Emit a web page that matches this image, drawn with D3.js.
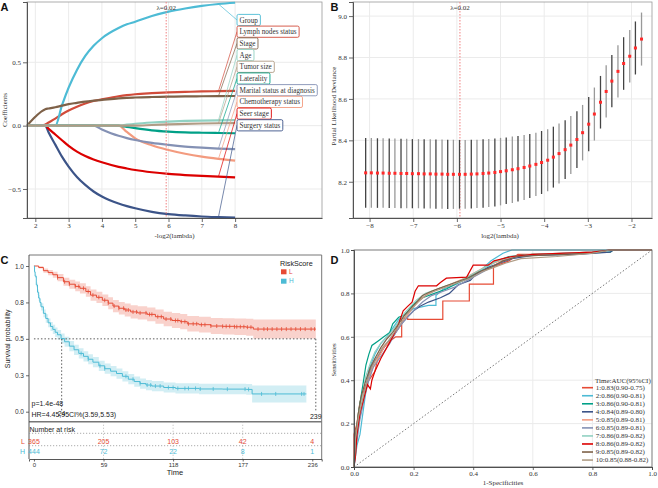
<!DOCTYPE html>
<html><head><meta charset="utf-8">
<script src="https://cdn.jsdelivr.net/npm/d3@7"></script>
<style>body{margin:0;background:#fff}svg{display:block}</style>
</head><body><svg id="c" width="658" height="488"></svg>
<script>
// ---------------- DATA ----------------
// Panel A: LASSO coefficient paths
const coefX = [1.75, 2.0, 2.2, 2.3, 2.4, 2.6, 2.8, 3.0, 3.25, 3.5, 3.75, 4.0, 4.5, 4.75, 5.0, 5.5, 6.0, 6.5, 7.0, 7.5, 8.0];
const coefNames = ["Group","Lymph nodes status","Stage","Age","Tumor size","Laterality","Marital status at diagnosis","Chemotherapy status","Seer stage","Surgery status"];
const coefGroup   = [0,0,0,0,0,0,0.16,0.30,0.44,0.55,0.63,0.69,0.77,0.80,0.82,0.865,0.90,0.925,0.945,0.96,0.97];
const coefLymph   = [0,0,0,0.01,0.025,0.055,0.09,0.12,0.15,0.175,0.195,0.208,0.232,0.241,0.248,0.256,0.262,0.266,0.27,0.272,0.274];
const coefStage   = [0,0.07,0.115,0.13,0.135,0.145,0.158,0.17,0.18,0.19,0.197,0.203,0.215,0.219,0.222,0.226,0.229,0.231,0.232,0.233,0.234];
const coefAge     = [0,0,0,0,0,0,0,0,0,0,0,0,0,0.008,0.015,0.025,0.032,0.037,0.04,0.042,0.043];
const coefTumor   = [0,0,0,0,0,0,0,0,0,0,0,0,0,0,0,0.005,0.01,0.014,0.017,0.019,0.02];
const coefLat     = [0,0,0,0,0,0,0,0,0,0,0,0,0,-0.01,-0.02,-0.037,-0.047,-0.053,-0.056,-0.058,-0.06];
const coefMarital = [0,0,0,0,0,0,0,0,0,0,0,-0.03,-0.08,-0.098,-0.113,-0.136,-0.152,-0.165,-0.174,-0.181,-0.186];
const coefChemo   = [0,0,0,0,0,0,0,0,0,0,0,0,0,-0.05,-0.1,-0.155,-0.192,-0.222,-0.245,-0.262,-0.276];
const coefSeer    = [0,0,0,0,-0.025,-0.07,-0.115,-0.16,-0.205,-0.24,-0.267,-0.289,-0.325,-0.338,-0.35,-0.368,-0.381,-0.39,-0.397,-0.403,-0.408];
const coefSurgery = [0,0,0,0,-0.055,-0.15,-0.245,-0.323,-0.405,-0.468,-0.52,-0.56,-0.615,-0.635,-0.652,-0.68,-0.698,-0.709,-0.717,-0.722,-0.726];
const coefColors = ["#4DBBD5","#D14B3A","#7E6148","#91D1C2","#B09C85","#00A087","#8491B4","#F39B7F","#DC0000","#3C5488"];
const coefTicksX = [2,3,4,5,6,7,8];
const coefTicksY = [-0.5,0,0.5];
const lambdaMinLog = 5.93;
const lambdaLabel = "λ=0.02";

// Panel B: CV partial likelihood deviance
const cvLogLambda = [-8.09,-7.96,-7.82,-7.69,-7.55,-7.42,-7.28,-7.15,-7.02,-6.88,-6.75,-6.61,-6.48,-6.34,-6.21,-6.08,-5.94,-5.81,-5.67,-5.54,-5.40,-5.27,-5.13,-5.00,-4.87,-4.73,-4.60,-4.46,-4.33,-4.19,-4.06,-3.92,-3.79,-3.66,-3.52,-3.39,-3.25,-3.12,-2.98,-2.85,-2.71,-2.58,-2.45,-2.31,-2.18,-2.04,-1.91,-1.77];
const cvMean = [8.243,8.243,8.242,8.242,8.241,8.241,8.240,8.240,8.239,8.239,8.238,8.238,8.237,8.237,8.236,8.236,8.236,8.236,8.237,8.238,8.240,8.242,8.245,8.249,8.253,8.258,8.263,8.269,8.276,8.284,8.293,8.304,8.319,8.336,8.355,8.377,8.404,8.437,8.478,8.527,8.584,8.636,8.686,8.733,8.771,8.806,8.846,8.889];
const cvSd = [0.168,0.168,0.168,0.168,0.168,0.168,0.168,0.168,0.167,0.167,0.167,0.167,0.167,0.167,0.167,0.167,0.166,0.166,0.166,0.165,0.165,0.164,0.164,0.163,0.161,0.16,0.158,0.157,0.155,0.153,0.152,0.15,0.147,0.145,0.142,0.14,0.137,0.134,0.131,0.128,0.127,0.126,0.126,0.126,0.127,0.127,0.128,0.128];
const cvTicksX = [-8,-7,-6,-5,-4,-3,-2];
const cvTicksY = [8.2,8.4,8.6,8.8,9.0];
const cvLambdaLog = -5.93;

// Panel C: Kaplan-Meier
const kmTimeL  = [0,4,8,12,16,20,25,30,35,39,44,48,53,58,63,67,72,77,82,88,96,103,110,117,124,130,140,150,160,170,180,186,200,220,239];
const kmSurvL  = [1.0,0.99,0.968,0.955,0.94,0.92,0.892,0.875,0.86,0.847,0.825,0.80,0.785,0.765,0.745,0.725,0.71,0.698,0.685,0.678,0.668,0.652,0.636,0.626,0.618,0.603,0.597,0.588,0.586,0.583,0.58,0.567,0.567,0.567,0.567];
const kmLowL   = [1.0,0.982,0.953,0.937,0.919,0.895,0.864,0.844,0.827,0.812,0.789,0.762,0.746,0.725,0.704,0.683,0.667,0.654,0.64,0.632,0.62,0.603,0.586,0.575,0.566,0.55,0.543,0.533,0.53,0.526,0.522,0.502,0.502,0.502,0.502];
const kmUpL    = [1.0,0.998,0.983,0.973,0.961,0.945,0.92,0.906,0.893,0.882,0.861,0.838,0.824,0.805,0.786,0.767,0.753,0.742,0.73,0.724,0.716,0.701,0.686,0.677,0.67,0.656,0.651,0.643,0.642,0.64,0.638,0.632,0.632,0.632,0.632];
const kmTimeH  = [0,0.5,1,2,3,4,5,6,8,10,12,14,16,18,20,23,26,30,34,38,42,46,50,55,60,65,70,75,80,85,90,95,100,110,120,140,160,180,185,200,231];
const kmSurvH  = [1.0,0.96,0.93,0.87,0.82,0.78,0.75,0.72,0.675,0.64,0.61,0.585,0.565,0.545,0.528,0.502,0.48,0.45,0.425,0.40,0.38,0.36,0.34,0.315,0.295,0.278,0.262,0.243,0.223,0.207,0.193,0.183,0.176,0.166,0.16,0.156,0.155,0.153,0.122,0.122,0.122];
const kmLowH   = [1.0,0.95,0.918,0.854,0.801,0.759,0.727,0.695,0.648,0.611,0.58,0.554,0.533,0.512,0.495,0.468,0.446,0.415,0.39,0.365,0.345,0.325,0.305,0.28,0.26,0.243,0.227,0.208,0.188,0.172,0.158,0.148,0.141,0.131,0.125,0.12,0.119,0.116,0.064,0.064,0.064];
const kmUpH    = [1.0,0.97,0.942,0.886,0.839,0.801,0.773,0.745,0.702,0.669,0.64,0.616,0.597,0.578,0.561,0.536,0.514,0.485,0.46,0.435,0.415,0.395,0.375,0.35,0.33,0.313,0.297,0.278,0.258,0.242,0.228,0.218,0.211,0.201,0.195,0.192,0.191,0.19,0.18,0.18,0.18];
const censorL = [20,26,30,35,38,42,46,50,55,60,63,68,72,76,78,80,84,87,90,95,98,100,105,108,112,116,120,122,125,128,131,135,138,142,145,150,155,160,163,166,170,172,175,178,181,184,190,195,198,202,206,210,214,218,222,226,230,235,238];
const censorH = [40,46,56,60,78,84,90,96,99,103,107,114,118,122,128,131,137,141,152,164,179,182,193,205,227,229];
const kmTicksY = [0,0.25,0.5,0.75,1];
const kmTickLabelsY = ["0.0","0.3","0.5","0.8","1.0"];
const kmTicksX = [0,59,118,177,236];
const riskL = [365,205,103,42,4];
const riskH = [444,72,22,8,1];
const medianH = 23.5, medianL = 239;
const pText = "p=1.4e-48";
const hrText = "HR=4.45,95CI%(3.59,5.53)";

// Panel D: time-dependent ROC
const roc1 = [[0,0],[0,0.15],[0.01,0.2],[0.02,0.3],[0.04,0.38],[0.06,0.42],[0.07,0.44],[0.08,0.5],[0.1,0.55],[0.12,0.58],[0.14,0.6],[0.16,0.6],[0.16,0.685],[0.18,0.685],[0.18,0.68],[0.298,0.68],[0.298,0.765],[0.387,0.765],[0.387,0.843],[0.468,0.843],[0.468,0.923],[0.52,0.95],[0.55,0.98],[0.7,0.98],[0.8,0.99],[0.86,1],[1,1]];
const roc2 = [[0,0],[0.01,0.1],[0.02,0.15],[0.03,0.25],[0.04,0.35],[0.05,0.45],[0.07,0.52],[0.09,0.57],[0.11,0.6],[0.13,0.64],[0.15,0.68],[0.17,0.7],[0.2,0.73],[0.25,0.745],[0.275,0.745],[0.275,0.79],[0.3,0.82],[0.34,0.84],[0.38,0.87],[0.42,0.9],[0.46,0.95],[0.5,0.985],[0.53,1.0],[0.6,1.0],[1,1]];
const roc3 = [[0,0],[0.005,0.12],[0.015,0.25],[0.03,0.38],[0.04,0.47],[0.05,0.52],[0.06,0.56],[0.08,0.58],[0.1,0.6],[0.12,0.62],[0.13,0.66],[0.15,0.69],[0.17,0.7],[0.2,0.75],[0.23,0.78],[0.27,0.8],[0.31,0.82],[0.35,0.85],[0.4,0.88],[0.44,0.92],[0.48,0.95],[0.52,0.97],[0.6,0.98],[0.75,0.985],[0.86,0.99],[0.87,1],[1,1]];
const roc4 = [[0,0],[0.005,0.1],[0.015,0.2],[0.03,0.3],[0.045,0.4],[0.055,0.45],[0.07,0.49],[0.09,0.53],[0.11,0.57],[0.13,0.6],[0.15,0.64],[0.17,0.68],[0.2,0.72],[0.22,0.74],[0.25,0.76],[0.29,0.78],[0.32,0.8],[0.35,0.84],[0.39,0.86],[0.41,0.89],[0.45,0.92],[0.49,0.94],[0.53,0.96],[0.6,0.975],[0.75,0.98],[0.86,0.99],[0.87,1],[1,1]];
const roc5 = [[0,0],[0.005,0.15],[0.015,0.22],[0.03,0.3],[0.045,0.38],[0.06,0.45],[0.08,0.5],[0.1,0.55],[0.12,0.58],[0.14,0.62],[0.16,0.66],[0.18,0.7],[0.2,0.74],[0.22,0.77],[0.25,0.8],[0.28,0.82],[0.32,0.84],[0.37,0.87],[0.41,0.9],[0.45,0.93],[0.49,0.95],[0.54,0.97],[0.6,0.98],[0.8,0.99],[0.86,1],[1,1]];
const roc6 = [[0,0],[0.01,0.12],[0.02,0.22],[0.035,0.32],[0.05,0.4],[0.065,0.46],[0.085,0.5],[0.1,0.53],[0.12,0.57],[0.14,0.62],[0.16,0.66],[0.18,0.69],[0.2,0.72],[0.23,0.76],[0.26,0.79],[0.3,0.81],[0.34,0.83],[0.38,0.86],[0.42,0.89],[0.46,0.92],[0.5,0.95],[0.55,0.97],[0.62,0.98],[0.8,0.99],[0.86,1],[1,1]];
const roc7 = [[0,0],[0.005,0.14],[0.015,0.24],[0.03,0.35],[0.04,0.42],[0.055,0.48],[0.07,0.53],[0.09,0.57],[0.11,0.6],[0.13,0.63],[0.15,0.67],[0.17,0.71],[0.19,0.74],[0.21,0.77],[0.24,0.8],[0.28,0.82],[0.32,0.84],[0.36,0.86],[0.4,0.89],[0.44,0.92],[0.48,0.95],[0.53,0.97],[0.6,0.98],[0.8,0.99],[0.86,1],[1,1]];
const roc8 = [[0,0],[0.005,0.05],[0.01,0.15],[0.02,0.25],[0.03,0.3],[0.045,0.38],[0.055,0.36],[0.06,0.4],[0.07,0.44],[0.09,0.5],[0.11,0.55],[0.13,0.6],[0.15,0.66],[0.165,0.72],[0.18,0.74],[0.195,0.76],[0.205,0.81],[0.216,0.835],[0.277,0.835],[0.29,0.85],[0.31,0.87],[0.378,0.875],[0.4,0.93],[0.45,0.93],[0.47,0.95],[0.53,0.97],[0.6,0.98],[0.8,0.99],[0.86,1],[1,1]];
const roc9 = [[0,0],[0.005,0.15],[0.015,0.25],[0.025,0.33],[0.04,0.4],[0.055,0.46],[0.07,0.5],[0.09,0.55],[0.11,0.59],[0.13,0.62],[0.15,0.66],[0.17,0.7],[0.19,0.73],[0.21,0.76],[0.23,0.79],[0.26,0.81],[0.3,0.83],[0.34,0.85],[0.38,0.87],[0.42,0.9],[0.46,0.92],[0.5,0.95],[0.55,0.97],[0.62,0.975],[0.8,0.985],[0.86,1],[1,1]];
const roc10 = [[0,0],[0.005,0.13],[0.015,0.23],[0.03,0.32],[0.045,0.4],[0.06,0.46],[0.075,0.5],[0.095,0.55],[0.115,0.58],[0.135,0.62],[0.155,0.66],[0.175,0.7],[0.195,0.73],[0.215,0.76],[0.24,0.79],[0.27,0.81],[0.31,0.83],[0.35,0.85],[0.39,0.87],[0.43,0.9],[0.47,0.92],[0.51,0.94],[0.56,0.96],[0.68,0.97],[0.8,0.985],[0.86,1],[1,1]];
const rocLabels = ["1:0.83(0.90-0.75)","2:0.86(0.90-0.81)","3:0.86(0.90-0.81)","4:0.84(0.89-0.80)","5:0.85(0.89-0.81)","6:0.85(0.89-0.81)","7:0.86(0.89-0.82)","8:0.86(0.89-0.82)","9:0.85(0.89-0.82)","10:0.85(0.88-0.82)"];
const rocColors = ["#E64B35","#4DBBD5","#00A087","#3C5488","#F39B7F","#8491B4","#91D1C2","#DC0000","#7E6148","#B09C85"];
const rocTicks = [0,0.2,0.4,0.6,0.8,1.0];

// ---------------- DRAW ----------------
const SERIF = "'Liberation Serif','Times New Roman',serif";
const SANS = "'Liberation Sans',Arial,sans-serif";
const svg = d3.select("#c");
svg.append("rect").attr("width",658).attr("height",488).attr("fill","#fff");
const GRID = "#ebebeb";

function styleAxis(g, font, size){
  g.selectAll("path.domain").attr("stroke","#444").attr("stroke-width",0.9);
  g.selectAll(".tick line").attr("stroke","#444").attr("stroke-width",0.8);
  g.selectAll(".tick text").attr("font-family",font).attr("font-size",size).attr("fill","#333");
}
function letter(t,x,y){
  svg.append("text").text(t).attr("x",x).attr("y",y).attr("font-family",SANS)
    .attr("font-weight","bold").attr("font-size",11).attr("fill","#111");
}

// ===== Panel A =====
(function(){
  const g = svg.append("g");
  const L=27,R=322,T=2,B=218;
  const x = d3.scaleLinear().domain([1.75,10.61]).range([L,R]);
  const y = d3.scaleLinear().domain([-0.729,0.976]).range([B,T]);
  g.selectAll(".vg").data(coefTicksX).join("line").attr("x1",d=>x(d)).attr("x2",d=>x(d)).attr("y1",T).attr("y2",B).attr("stroke",GRID);
  g.selectAll(".hg").data(coefTicksY).join("line").attr("x1",L).attr("x2",R).attr("y1",d=>y(d)).attr("y2",d=>y(d)).attr("stroke",GRID);
  g.append("rect").attr("x",L).attr("y",T).attr("width",R-L).attr("height",B-T).attr("fill","none").attr("stroke","#999").attr("stroke-width",0.8);
  const series = [coefGroup,coefLymph,coefStage,coefAge,coefTumor,coefLat,coefMarital,coefChemo,coefSeer,coefSurgery];
  const line = d3.line().x(d=>x(d[0])).y(d=>y(d[1])).curve(d3.curveMonotoneX);
  const order = [9,8,7,6,5,1,0,2,3,4];
  order.forEach(i=>{
    g.append("path").datum(coefX.map((v,j)=>[v,series[i][j]])).attr("d",line)
      .attr("fill","none").attr("stroke",coefColors[i]).attr("stroke-width",2.2);
  });
  g.append("line").attr("x1",x(lambdaMinLog)).attr("x2",x(lambdaMinLog)).attr("y1",T).attr("y2",B)
    .attr("stroke","#F08080").attr("stroke-width",1).attr("stroke-dasharray","1.5,1.5");
  g.append("text").text(lambdaLabel).attr("x",x(lambdaMinLog)).attr("y",9.5).attr("text-anchor","middle")
    .attr("font-family",SERIF).attr("font-size",7).attr("fill","#333");
  const xi = coefX.indexOf(7.5);
  coefNames.forEach((n,i)=>{
    const ly = 20 + i*11.7;
    g.append("line").attr("x1",x(7.5)).attr("y1",y(series[i][xi])).attr("x2",237).attr("y2",ly)
      .attr("stroke",coefColors[i]).attr("stroke-width",0.7);
  });
  coefNames.forEach((n,i)=>{
    const ly = 20 + i*11.7;
    const rect = g.append("rect").attr("x",237).attr("y",ly-5.6).attr("height",11.2).attr("rx",1.5)
      .attr("fill","#fff").attr("stroke",coefColors[i]).attr("stroke-width",0.9);
    const t = g.append("text").text(n).attr("x",239.5).attr("y",ly+2.5)
      .attr("font-family",SERIF).attr("font-size",7.2).attr("fill","#333");
    rect.attr("width",t.node().getComputedTextLength()+5);
  });
  const ay = g.append("g").attr("transform",`translate(${L},0)`)
    .call(d3.axisLeft(y).tickValues(coefTicksY).tickSize(4).tickPadding(2).tickFormat(d3.format(".1f")));
  styleAxis(ay,SERIF,7);
  const ax = g.append("g").attr("transform",`translate(0,${B})`)
    .call(d3.axisBottom(x).tickValues(coefTicksX).tickSize(4).tickPadding(1.5).tickSizeOuter(0).tickFormat(d3.format("d")));
  styleAxis(ax,SERIF,7);
  g.append("text").text("Coefficients").attr("transform",`translate(7,${(T+B)/2}) rotate(-90)`)
    .attr("text-anchor","middle").attr("font-family",SERIF).attr("font-size",7).attr("fill","#333");
  g.append("text").text("-log2(lambda)").attr("x",(L+R)/2).attr("y",237.5).attr("text-anchor","middle")
    .attr("font-family",SERIF).attr("font-size",7).attr("fill","#333");
})();
letter("A",0.5,10.5);

// ===== Panel B =====
(function(){
  const g = svg.append("g");
  const L=353,R=652,T=2,B=218;
  const x = d3.scaleLinear().domain([-8.38,-1.53]).range([L,R]);
  const y = d3.scaleLinear().domain([8.025,9.068]).range([B,T]);
  g.selectAll(".vg").data(cvTicksX).join("line").attr("x1",d=>x(d)).attr("x2",d=>x(d)).attr("y1",T).attr("y2",B).attr("stroke",GRID);
  g.selectAll(".hg").data(cvTicksY).join("line").attr("x1",L).attr("x2",R).attr("y1",d=>y(d)).attr("y2",d=>y(d)).attr("stroke",GRID);
  g.append("rect").attr("x",L).attr("y",T).attr("width",R-L).attr("height",B-T).attr("fill","none").attr("stroke","#999").attr("stroke-width",0.8);
  g.append("line").attr("x1",x(cvLambdaLog)).attr("x2",x(cvLambdaLog)).attr("y1",T).attr("y2",B)
    .attr("stroke","#F08080").attr("stroke-width",1).attr("stroke-dasharray","1.5,1.5");
  g.append("text").text(lambdaLabel).attr("x",x(cvLambdaLog)).attr("y",9.5).attr("text-anchor","middle")
    .attr("font-family",SERIF).attr("font-size",7).attr("fill","#333");
  cvLogLambda.forEach((v,i)=>{
    g.append("line").attr("x1",x(v)).attr("x2",x(v)).attr("y1",y(cvMean[i]-cvSd[i])).attr("y2",y(cvMean[i]+cvSd[i]))
      .attr("stroke",i%2? "#999":"#444").attr("stroke-width",1.3);
  });
  cvLogLambda.forEach((v,i)=>{
    g.append("rect").attr("x",x(v)-1.5).attr("y",y(cvMean[i])-1.5).attr("width",3).attr("height",3).attr("fill","#FF2A2A");
  });
  const ay = g.append("g").attr("transform",`translate(${L},0)`)
    .call(d3.axisLeft(y).tickValues(cvTicksY).tickSize(4).tickPadding(2).tickFormat(d3.format(".1f")));
  styleAxis(ay,SERIF,7);
  const ax = g.append("g").attr("transform",`translate(0,${B})`)
    .call(d3.axisBottom(x).tickValues(cvTicksX).tickSize(4).tickPadding(1.5).tickSizeOuter(0).tickFormat(d3.format("d")));
  styleAxis(ax,SERIF,7);
  g.append("text").text("Partial Likelihood Deviance").attr("transform",`translate(336,${(T+B)/2-4}) rotate(-90)`)
    .attr("text-anchor","middle").attr("font-family",SERIF).attr("font-size",7).attr("fill","#333");
  g.append("text").text("log2(lambda)").attr("x",500).attr("y",237.5).attr("text-anchor","middle")
    .attr("font-family",SERIF).attr("font-size",7).attr("fill","#333");
})();
letter("B",330.5,10.5);

// ===== Panel C =====
(function(){
  const g = svg.append("g");
  const L=29,R=321.7,T=255,B=421.7;
  const x = d3.scaleLinear().domain([-4.2,244]).range([L,R]);
  const y = d3.scaleLinear().domain([0,1]).range([411.7,266]);
  const redC = "#E64B35", bluC = "#4DBBD5";
  const area = d3.area().curve(d3.curveStepAfter).x(d=>x(d.t)).y0(d=>y(d.lo)).y1(d=>y(d.up));
  const line = d3.line().curve(d3.curveStepAfter).x(d=>x(d.t)).y(d=>y(d.s));
  const dL = kmTimeL.map((t,i)=>({t,s:kmSurvL[i],lo:kmLowL[i],up:kmUpL[i]}));
  const dH = kmTimeH.map((t,i)=>({t,s:kmSurvH[i],lo:kmLowH[i],up:kmUpH[i]}));
  g.append("path").datum(dL).attr("d",area).attr("fill",redC).attr("fill-opacity",0.25);
  g.append("path").datum(dH).attr("d",area).attr("fill",bluC).attr("fill-opacity",0.25);
  const dot = "1.5,2";
  g.append("line").attr("x1",x(0)).attr("x2",x(medianL)).attr("y1",y(0.5)).attr("y2",y(0.5)).attr("stroke","#333").attr("stroke-width",0.8).attr("stroke-dasharray",dot);
  g.append("line").attr("x1",x(medianH)).attr("x2",x(medianH)).attr("y1",y(0.5)).attr("y2",y(0)).attr("stroke","#333").attr("stroke-width",0.8).attr("stroke-dasharray",dot);
  g.append("line").attr("x1",x(medianL)).attr("x2",x(medianL)).attr("y1",y(0.5)).attr("y2",y(0)).attr("stroke","#333").attr("stroke-width",0.8).attr("stroke-dasharray",dot);
  g.append("path").datum(dL).attr("d",line).attr("fill","none").attr("stroke",redC).attr("stroke-width",1);
  g.append("path").datum(dH).attr("d",line).attr("fill","none").attr("stroke",bluC).attr("stroke-width",1);
  function survAt(times,surv,t){ let s=surv[0]; for(let i=0;i<times.length;i++){ if(times[i]<=t) s=surv[i]; } return s; }
  censorL.forEach(t=>{ const yy=y(survAt(kmTimeL,kmSurvL,t));
    g.append("line").attr("x1",x(t)).attr("x2",x(t)).attr("y1",yy-2).attr("y2",yy+2).attr("stroke",redC).attr("stroke-width",0.8); });
  censorH.forEach(t=>{ const yy=y(survAt(kmTimeH,kmSurvH,t));
    g.append("line").attr("x1",x(t)).attr("x2",x(t)).attr("y1",yy-2).attr("y2",yy+2).attr("stroke",bluC).attr("stroke-width",0.8); });
  g.append("line").attr("x1",L).attr("x2",R).attr("y1",T).attr("y2",T).attr("stroke","#777").attr("stroke-width",1);
  g.append("line").attr("x1",R).attr("x2",R).attr("y1",T).attr("y2",459).attr("stroke","#777").attr("stroke-width",1);
  g.append("line").attr("x1",L).attr("x2",R).attr("y1",B).attr("y2",B).attr("stroke","#777").attr("stroke-width",1.6);
  g.append("line").attr("x1",L).attr("x2",L).attr("y1",T).attr("y2",459).attr("stroke","#444").attr("stroke-width",0.9);
  const ay = g.append("g").attr("transform",`translate(${L},0)`)
    .call(d3.axisLeft(y).tickValues(kmTicksY).tickSize(3).tickPadding(2).tickFormat((d,i)=>kmTickLabelsY[i]));
  ay.select("path.domain").remove();
  styleAxis(ay,SANS,6.5);
  g.append("text").text("Survival probability").attr("transform",`translate(10,${(266+411.7)/2}) rotate(-90)`)
    .attr("text-anchor","middle").attr("font-family",SANS).attr("font-size",7).attr("fill","#222");
  g.append("text").text(pText).attr("x",31.5).attr("y",406).attr("font-family",SANS).attr("font-size",7).attr("fill","#222");
  g.append("text").text(String(Math.round(medianH))).attr("x",x(medianH)).attr("y",415.5).attr("text-anchor","middle").attr("font-family",SANS).attr("font-size",6.5).attr("fill","#222");
  g.append("text").text(hrText).attr("x",31.5).attr("y",417).attr("font-family",SANS).attr("font-size",7).attr("fill","#222");
  g.append("text").text(String(medianL)).attr("x",x(medianL)).attr("y",419).attr("text-anchor","middle").attr("font-family",SANS).attr("font-size",7).attr("fill","#222");
  g.append("text").text("RiskScore").attr("x",280).attr("y",266).attr("font-family",SANS).attr("font-size",7.2).attr("fill","#222");
  [["L",redC],["H",bluC]].forEach((d,i)=>{
    g.append("rect").attr("x",281).attr("y",269.3+i*9.4).attr("width",5.5).attr("height",5).attr("fill",d[1]);
    g.append("text").text(d[0]).attr("x",289).attr("y",274+i*9.4).attr("font-family",SANS).attr("font-size",6.5).attr("fill",d[1]);
  });
  g.append("text").text("Number at risk").attr("x",29.5).attr("y",431.5).attr("font-family",SANS).attr("font-size",7).attr("fill","#222");
  [433.3,445.7].forEach(yy=>g.append("line").attr("x1",L).attr("x2",R).attr("y1",yy).attr("y2",yy).attr("stroke","#888").attr("stroke-width",0.7).attr("stroke-dasharray","1.2,1.8"));
  kmTicksX.slice(1,4).forEach(t=>g.append("line").attr("x1",x(t)).attr("x2",x(t)).attr("y1",B).attr("y2",459).attr("stroke","#aaa").attr("stroke-width",0.7).attr("stroke-dasharray","1.2,1.8"));
  [["L",riskL,redC,443.8],["H",riskH,bluC,454.2]].forEach(r=>{
    g.append("text").text(r[0]).attr("x",25).attr("y",r[3]).attr("text-anchor","end").attr("font-family",SANS).attr("font-size",7).attr("fill",r[2]);
    r[1].forEach((v,i)=>g.append("text").text(v).attr("x",x(kmTicksX[i])).attr("y",r[3]).attr("text-anchor","middle").attr("font-family",SANS).attr("font-size",7).attr("fill",r[2]));
  });
  const ax = g.append("g").attr("transform","translate(0,459)")
    .call(d3.axisBottom(x).tickValues(kmTicksX).tickSize(2.5).tickPadding(1.5).tickSizeOuter(2.5));
  styleAxis(ax,SANS,6);
  g.append("text").text("Time").attr("x",175).attr("y",475).attr("text-anchor","middle").attr("font-family",SANS).attr("font-size",7.5).attr("fill","#222");
})();
letter("C",0.5,263.5);

// ===== Panel D =====
(function(){
  const g = svg.append("g");
  const L=354,R=652,T=250,B=467;
  const x = d3.scaleLinear().domain([0,1]).range([L,R]);
  const y = d3.scaleLinear().domain([0,1]).range([B,T]);
  g.selectAll(".vg").data(rocTicks).join("line").attr("x1",d=>x(d)).attr("x2",d=>x(d)).attr("y1",T).attr("y2",B).attr("stroke",GRID);
  g.selectAll(".hg").data(rocTicks).join("line").attr("x1",L).attr("x2",R).attr("y1",d=>y(d)).attr("y2",d=>y(d)).attr("stroke",GRID);
  g.append("line").attr("x1",x(0)).attr("y1",y(0)).attr("x2",x(1)).attr("y2",y(1)).attr("stroke","#555").attr("stroke-width",0.8).attr("stroke-dasharray","1.5,2");
  const rocs = [roc1,roc2,roc3,roc4,roc5,roc6,roc7,roc8,roc9,roc10];
  const line = d3.line().x(d=>x(d[0])).y(d=>y(d[1]));
  rocs.forEach((r,i)=>g.append("path").datum(r).attr("d",line).attr("fill","none").attr("stroke",rocColors[i]).attr("stroke-width",1.2));
  g.append("rect").attr("x",L).attr("y",T).attr("width",R-L).attr("height",B-T).attr("fill","none").attr("stroke","#666").attr("stroke-width",0.8);
  const ay = g.append("g").attr("transform",`translate(${L},0)`)
    .call(d3.axisLeft(y).tickValues(rocTicks).tickSize(3).tickPadding(1.5).tickFormat(d3.format(".1f")));
  styleAxis(ay,SERIF,7);
  const ax = g.append("g").attr("transform",`translate(0,${B})`)
    .call(d3.axisBottom(x).tickValues(rocTicks).tickSize(3).tickPadding(1).tickFormat(d3.format(".1f")));
  styleAxis(ax,SERIF,7);
  g.append("text").text("Sensitivities").attr("transform",`translate(336,360) rotate(-90)`)
    .attr("text-anchor","middle").attr("font-family",SERIF).attr("font-size",6.8).attr("fill","#333");
  g.append("text").text("1-Specificities").attr("x",503).attr("y",484.5).attr("text-anchor","middle")
    .attr("font-family",SERIF).attr("font-size",7).attr("fill","#333");
  g.append("text").text("Time:AUC(95%CI)").attr("x",595).attr("y",382.5).attr("font-family",SERIF).attr("font-size",7).attr("fill","#333");
  rocLabels.forEach((lab,i)=>{
    const yy = 387.7 + i*8.04;
    g.append("line").attr("x1",582).attr("x2",593).attr("y1",yy).attr("y2",yy).attr("stroke",rocColors[i]).attr("stroke-width",1.6);
    g.append("text").text(lab).attr("x",595.7).attr("y",yy+2.4).attr("font-family",SERIF).attr("font-size",7).attr("fill","#333");
  });
})();
letter("D",330.5,263.5);
</script></body></html>
